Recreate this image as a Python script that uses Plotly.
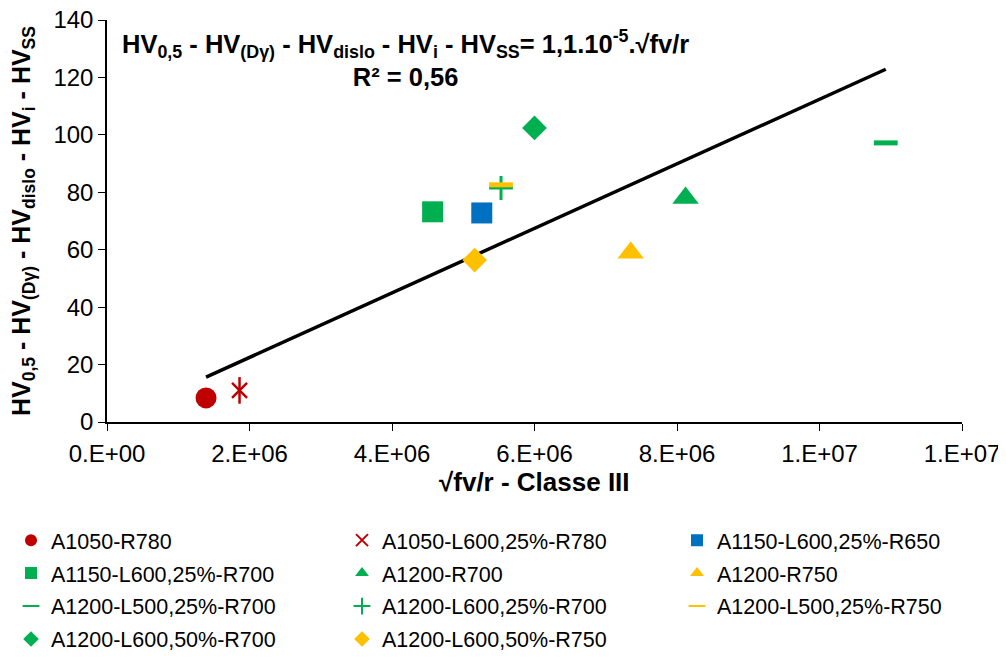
import plotly.graph_objects as go

# ---- data ----
series_names = ["A1050-R780", "A1050-L600,25%-R780", "A1150-L600,25%-R650",
                "A1150-L600,25%-R700", "A1200-R700", "A1200-R750",
                "A1200-L500,25%-R700", "A1200-L600,25%-R700", "A1200-L500,25%-R750",
                "A1200-L600,50%-R700", "A1200-L600,50%-R750"]
x_vals = [1.39e6, 1.86e6, 5.26e6, 4.57e6, 8.12e6, 7.35e6, 10.93e6, 5.53e6, 5.53e6, 6.00e6, 5.16e6]
y_vals = [8.4, 11.0, 72.8, 73.2, 78.0, 58.9, 97.2, 81.5, 82.6, 102.4, 56.4]
trend_slope = 1.124e-5
x_tickvals = [0, 2e6, 4e6, 6e6, 8e6, 1e7, 1.2e7]
x_ticktext = ["0.E+00", "2.E+06", "4.E+06", "6.E+06", "8.E+06", "1.E+07", "1.E+07"]
y_tickvals = [0, 20, 40, 60, 80, 100, 120, 140]
x_title = "<b>√fv/r - Classe III</b>"
y_title = "<b>HV<sub>0,5</sub> - HV<sub>(Dγ)</sub> - HV<sub>dislo</sub> - HV<sub>i</sub> - HV<sub>SS</sub></b>"
eq_text = ("<b>HV<sub>0,5</sub> - HV<sub>(Dγ)</sub> - HV<sub>dislo</sub> - HV<sub>i</sub> - "
           "HV<sub>SS</sub>= 1,1.10<sup>-5</sup>.√fv/r<br>R² = 0,56</b>")

# ---- styles ----
RED, BLUE, GREEN, YELLOW = "#C00000", "#0070C0", "#00B050", "#FFC000"
styles = [
    dict(symbol="circle", color=RED, size=21),
    dict(symbol="x-thin-open", color=RED, size=15, line=dict(color=RED, width=2.5)),
    dict(symbol="square", color=BLUE, size=21),
    dict(symbol="square", color=GREEN, size=21),
    dict(symbol="triangle-up", color=GREEN, size=23),
    dict(symbol="triangle-up", color=YELLOW, size=23),
    dict(symbol="line-ew-open", color=GREEN, size=17, line=dict(color=GREEN, width=5)),
    dict(symbol="cross-thin-open", color=GREEN, size=17, line=dict(color=GREEN, width=3)),
    dict(symbol="line-ew-open", color=YELLOW, size=17, line=dict(color=YELLOW, width=5)),
    dict(symbol="diamond", color=GREEN, size=19),
    dict(symbol="diamond", color=YELLOW, size=19),
]
# legend column for each series (3-column layout, row-major)
legend_ids = ["legend", "legend2", "legend3", "legend", "legend2", "legend3",
              "legend", "legend2", "legend3", "legend", "legend2"]

fig = go.Figure()

# trendline (through origin) spanning data x range
xmin, xmax = min(x_vals), max(x_vals)
fig.add_trace(go.Scatter(x=[xmin, xmax], y=[trend_slope * xmin, trend_slope * xmax],
                         mode="lines", line=dict(color="black", width=3.5),
                         showlegend=False, hoverinfo="skip"))

for i, (name, xv, yv, st, lg) in enumerate(zip(series_names, x_vals, y_vals, styles, legend_ids)):
    fig.add_trace(go.Scatter(x=[xv], y=[yv], mode="markers", name=name,
                             marker=st, legendgroup=name, legend=lg))
    if i == 1:
        # vertical stroke to make the asterisk-like marker
        fig.add_trace(go.Scatter(x=[xv], y=[yv], mode="markers", name=name,
                                 legendgroup=name, showlegend=False, legend=lg,
                                 marker=dict(symbol="line-ns-open", size=19, color=RED,
                                             line=dict(color=RED, width=2.5))))

W, H = 998, 651  # page body has an 8px margin inside the 1006x659 window
font_fam = "Liberation Sans, Arial, sans-serif"
leg_common = dict(orientation="v", xref="container", yref="container",
                  y=0.214, xanchor="left", yanchor="top",
                  itemsizing="constant", tracegroupgap=2,
                  font=dict(size=21.5), bgcolor="rgba(0,0,0,0)")

fig.update_layout(
    width=W, height=H,
    paper_bgcolor="white", plot_bgcolor="white",
    margin=dict(l=99, r=44, t=12, b=237, autoexpand=False),
    font=dict(family=font_fam, size=24, color="black"),
    xaxis=dict(range=[0, 1.2e7], tickvals=x_tickvals, ticktext=x_ticktext,
               showline=True, linecolor="black", linewidth=1.5, automargin=False,
               ticks="outside", ticklen=7, tickcolor="black", showgrid=False,
               zeroline=False, tickfont=dict(size=24), ticklabelstandoff=2,
               ticklabeloverflow="allow"),
    yaxis=dict(range=[0, 140], tickvals=y_tickvals,
               showline=True, linecolor="black", linewidth=1.5, automargin=False,
               ticks="outside", ticklen=7, tickcolor="black", showgrid=False,
               zeroline=False, tickfont=dict(size=24), ticklabeloverflow="allow"),
    legend=dict(leg_common, x=3 / W),
    legend2=dict(leg_common, x=334 / W),
    legend3=dict(leg_common, x=669 / W),
    annotations=[
        dict(text=eq_text, xref="paper", yref="paper", x=0.349, y=0.99,
             xanchor="center", yanchor="top", showarrow=False, align="center",
             font=dict(size=25.5)),
        dict(text=x_title, xref="paper", yref="paper", x=0.5, y=0, yshift=-60,
             xanchor="center", yanchor="middle", showarrow=False, font=dict(size=26)),
        dict(text=y_title, xref="paper", yref="paper", x=0, y=0.5, xshift=-84,
             xanchor="center", yanchor="middle", textangle=-90, showarrow=False,
             font=dict(size=25)),
    ],
)

fig.write_html("out.html")
